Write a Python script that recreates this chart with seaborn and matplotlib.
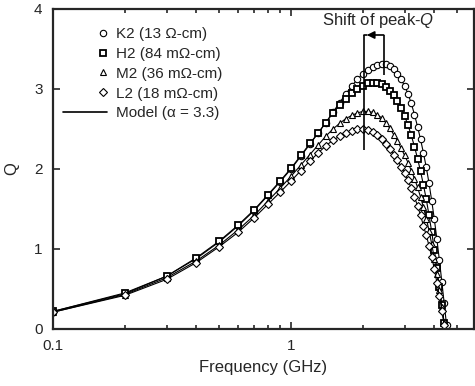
import numpy as np
import pandas as pd
import seaborn as sns
import matplotlib.pyplot as plt
from matplotlib import ticker
from matplotlib.lines import Line2D
from matplotlib.legend_handler import HandlerLine2D

# Frequency grid of the measurement (GHz)
freq = [0.1, 0.2, 0.3, 0.4, 0.5, 0.6, 0.7, 0.8, 0.9, 1.0,
        1.1, 1.2, 1.3, 1.4, 1.5, 1.6, 1.7, 1.8, 1.9, 2.0,
        2.1, 2.2, 2.3, 2.4, 2.5, 2.6, 2.7, 2.8, 2.9, 3.0,
        3.1, 3.2, 3.3, 3.4, 3.5, 3.6, 3.7, 3.8, 3.9, 4.0,
        4.1, 4.2, 4.3, 4.4, 4.5]

# Q values
q_k2 = [0.22, 0.44, 0.66, 0.88, 1.09, 1.29, 1.48, 1.67, 1.84, 2.00,
        2.16, 2.31, 2.45, 2.58, 2.71, 2.83, 2.94, 3.04, 3.12, 3.19,
        3.24, 3.28, 3.30, 3.31, 3.31, 3.29, 3.25, 3.19, 3.12, 3.04,
        2.94, 2.82, 2.68, 2.53, 2.37, 2.20, 2.02, 1.82, 1.60, 1.37,
        1.12, 0.86, 0.59, 0.32, 0.05]
q_h2 = [0.22, 0.45, 0.66, 0.89, 1.10, 1.30, 1.49, 1.68, 1.85, 2.01,
        2.17, 2.32, 2.45, 2.58, 2.70, 2.80, 2.88, 2.95, 3.00, 3.04,
        3.07, 3.08, 3.08, 3.06, 3.03, 2.98, 2.92, 2.85, 2.76, 2.66,
        2.55, 2.42, 2.28, 2.13, 1.97, 1.80, 1.62, 1.42, 1.21, 0.99,
        0.76, 0.53, 0.30, 0.07, np.nan]
q_m2 = [0.21, 0.43, 0.64, 0.85, 1.05, 1.24, 1.42, 1.60, 1.76, 1.91,
        2.05, 2.18, 2.30, 2.41, 2.50, 2.57, 2.63, 2.67, 2.70, 2.72,
        2.72, 2.71, 2.68, 2.64, 2.58, 2.51, 2.43, 2.35, 2.26, 2.17,
        2.08, 1.98, 1.88, 1.77, 1.65, 1.52, 1.38, 1.23, 1.06, 0.88,
        0.69, 0.49, 0.28, 0.07, np.nan]
q_l2 = [0.21, 0.42, 0.62, 0.83, 1.03, 1.21, 1.39, 1.56, 1.71, 1.85,
        1.98, 2.10, 2.20, 2.29, 2.36, 2.41, 2.45, 2.48, 2.50, 2.50,
        2.49, 2.46, 2.42, 2.37, 2.31, 2.25, 2.18, 2.11, 2.03, 1.95,
        1.86, 1.76, 1.65, 1.54, 1.42, 1.29, 1.17, 1.04, 0.90, 0.75,
        0.58, 0.41, 0.23, 0.05, np.nan]

labels = ["K2 (13 Ω-cm)", "H2 (84 mΩ-cm)", "M2 (36 mΩ-cm)", "L2 (18 mΩ-cm)"]
model_label = "Model (α = 3.3)"

# peak positions marked by the "shift" bracket
peak_low = 2.03
peak_high = 2.45

sns.set_style("ticks")
plt.rcParams['font.family'] = ['Liberation Sans', 'DejaVu Sans']
plt.rcParams['mathtext.fontset'] = 'custom'
plt.rcParams['mathtext.it'] = 'Liberation Sans:italic'
plt.rcParams['mathtext.rm'] = 'Liberation Sans'

fig = plt.figure(figsize=(4.75, 3.86), dpi=100)
ax = fig.add_axes([0.1116, 0.1477, 0.8863, 0.829])

markers = ["o", "s", "^", "D"]
sizes = [4.6, 4.2, 4.6, 3.8]
widths = [0.8, 1.3, 0.8, 0.8]
for q, m, ms, mw in zip([q_k2, q_h2, q_m2, q_l2], markers, sizes, widths):
    df = pd.DataFrame({"f": freq, "Q": q}).dropna()
    sns.lineplot(data=df, x="f", y="Q", ax=ax, color="k", lw=0.8,
                 marker=m, ms=ms, mfc="white", mec="k", mew=mw, legend=False)

ax.set_xscale("log")
ax.set_xlim(0.1, 5.87)
ax.set_ylim(0, 4)
ax.set_yticks([0, 1, 2, 3, 4])
ax.xaxis.set_major_formatter(ticker.FuncFormatter(lambda v, p: f"{v:g}"))
ax.xaxis.set_minor_formatter(ticker.NullFormatter())
ax.tick_params(which="both", direction="in", top=True, right=True,
               labelsize=11, width=1.2, pad=7.5)
ax.tick_params(which="major", length=5)
ax.tick_params(which="minor", length=3)
for s in ax.spines.values():
    s.set_linewidth(1.6)

ax.set_xlabel("Frequency (GHz)", fontsize=12, labelpad=5)
ax.set_ylabel("Q", fontsize=12, labelpad=11)

# bracket showing the shift of the peak
ax.vlines(peak_low, 2.24, 3.675, color="k", lw=1.2)
ax.vlines(peak_high, 3.17, 3.675, color="k", lw=1.2)
ax.annotate("", xy=(peak_low * 1.025, 3.675), xytext=(peak_high, 3.675),
            arrowprops=dict(arrowstyle="-|>", color="k", lw=1.2,
                            mutation_scale=11, shrinkA=0, shrinkB=0))
ax.plot([peak_low, peak_low * 1.03], [3.675, 3.675], color="k", lw=1.2)
ax.text(2.32, 3.85, "Shift of peak-$Q$", ha="center", va="center", fontsize=12)


class RightMarkerHandler(HandlerLine2D):
    # put the single legend marker near the right end of the handle
    def get_xdata(self, legend, xdescent, ydescent, width, height, fontsize):
        xm = -xdescent + width - 0.3 * fontsize
        return [xm - 1, xm + 1], [xm]


handles = [Line2D([], [], ls="none", marker=m, ms=ms, mfc="white", mec="k", mew=mw)
           for m, ms, mw in zip(markers, sizes, widths)]
model_handle = Line2D([], [], color="k", lw=1.2)
hmap = {h: RightMarkerHandler() for h in handles}
ax.legend(handles + [model_handle], labels + [model_label], loc="upper left",
          bbox_to_anchor=(0.024, 0.943), frameon=False, fontsize=11,
          handlelength=2.9, handletextpad=0.55, labelspacing=0.38,
          borderpad=0, borderaxespad=0, handler_map=hmap)

fig.savefig("out.png", dpi=100)
